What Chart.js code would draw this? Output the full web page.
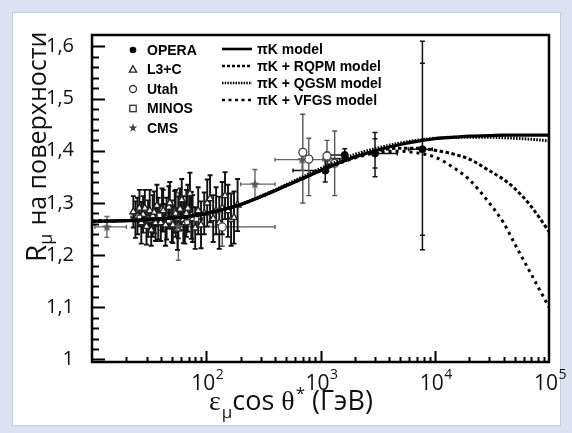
<!DOCTYPE html>
<html>
<head>
<meta charset="utf-8">
<script src="https://cdn.jsdelivr.net/npm/chart.js@4/dist/chart.umd.min.js"></script>
<style>
  html, body { margin: 0; padding: 0; background: #dfe4f1; }
  #c { display: block; }
</style>
</head>
<body>
<canvas id="c" width="572" height="433"></canvas>
<script>
// ---- axis settings ----
const X_MIN = 10, X_MAX = 1e5;
const Y_MIN = 0.995, Y_MAX = 1.622;
const yTicks = [1, 1.1, 1.2, 1.3, 1.4, 1.5, 1.6];
const xTickPowers = [2, 3, 4, 5];

// ---- model curves (energy in GeV) ----
const modelEnergy = [10, 20, 30, 50, 70, 100, 150, 200, 300, 500, 700, 1000, 1500, 2000, 3000,
                     5000, 7000, 10000, 15000, 20000, 30000, 40000, 50000, 70000, 100000];
const piK     = [1.265, 1.266, 1.268, 1.271, 1.274, 1.280, 1.289, 1.297, 1.312, 1.333, 1.347, 1.362, 1.378, 1.388, 1.400,
                 1.412, 1.418, 1.423, 1.426, 1.428, 1.429, 1.430, 1.430, 1.430, 1.430];
const piKRqpm = [1.265, 1.266, 1.268, 1.271, 1.274, 1.280, 1.289, 1.297, 1.312, 1.333, 1.347, 1.362, 1.378, 1.388, 1.399,
                 1.405, 1.405, 1.401, 1.393, 1.384, 1.362, 1.345, 1.328, 1.293, 1.245];
const piKQgsm = [1.265, 1.266, 1.268, 1.271, 1.274, 1.280, 1.289, 1.297, 1.313, 1.335, 1.350, 1.366, 1.382, 1.393, 1.404,
                 1.415, 1.420, 1.424, 1.426, 1.426, 1.426, 1.425, 1.424, 1.422, 1.419];
const piKVfgs = [1.265, 1.266, 1.268, 1.271, 1.274, 1.280, 1.289, 1.297, 1.312, 1.333, 1.347, 1.362, 1.377, 1.386, 1.396,
                 1.399, 1.396, 1.388, 1.366, 1.345, 1.300, 1.262, 1.222, 1.163, 1.100];

// ---- measurements ----
const operaE     = [1100, 1630, 3000, 7800];
const operaR     = [1.362, 1.392, 1.395, 1.403];
const operaErrLo = [0.022, 0.012, 0.045, 0.193];
const operaErrHi = [0.022, 0.012, 0.040, 0.207];
const operaStat  = [null, null, 0.028, 0.165];
const operaXLo   = [575, 1080, 2300, 5900];
const operaXHi   = [1150, 1700, 4700, 9500];

const l3cE   = [23, 24, 25, 26, 27, 28, 29, 30, 31, 32, 33, 34, 35, 36, 37, 38, 40, 41, 42, 44,
                45, 47, 48, 50, 51, 53, 54, 56, 57, 59, 61, 63, 65, 67, 69, 72, 74, 76, 80, 85,
                90, 96, 102, 108, 115, 122, 130, 138, 146, 155, 165, 175, 188];
const l3cR   = [1.283, 1.268, 1.275, 1.290, 1.262, 1.278, 1.290, 1.255, 1.270, 1.285,
                1.248, 1.275, 1.282, 1.262, 1.295, 1.270, 1.262, 1.288, 1.285, 1.258,
                1.270, 1.292, 1.300, 1.265, 1.258, 1.283, 1.280, 1.250, 1.272, 1.288,
                1.306, 1.268, 1.262, 1.280, 1.290, 1.318, 1.276, 1.270, 1.252, 1.285,
                1.258, 1.280, 1.300, 1.308, 1.270, 1.285, 1.262, 1.290, 1.314, 1.285,
                1.268, 1.272, 1.296];
const l3cErr = [0.030, 0.035, 0.035, 0.035, 0.040, 0.035, 0.035, 0.035, 0.035, 0.040,
                0.030, 0.040, 0.040, 0.035, 0.040, 0.040, 0.035, 0.040, 0.040, 0.040,
                0.040, 0.040, 0.040, 0.040, 0.035, 0.040, 0.045, 0.040, 0.040, 0.040,
                0.040, 0.045, 0.040, 0.045, 0.045, 0.040, 0.045, 0.045, 0.040, 0.045,
                0.045, 0.040, 0.045, 0.045, 0.045, 0.045, 0.050, 0.050, 0.045, 0.050,
                0.050, 0.050, 0.050];

const utahE     = [138, 700, 790, 1140, 1330];
const utahR     = [1.254, 1.397, 1.384, 1.390, 1.376];
const utahErrLo = [0.037, 0.097, 0.070, 0.030, 0.062];
const utahErrHi = [0.036, 0.073, 0.040, 0.030, 0.062];
const utahXLo   = [59, null, null, null, null];
const utahXHi   = [400, null, null, null, null];

const minosE   = [26, 32, 39, 47, 56, 68, 82, 1150];
const minosR   = [1.272, 1.268, 1.276, 1.266, 1.271, 1.263, 1.269, 1.385];
const minosErr = [0.015, 0.015, 0.015, 0.016, 0.017, 0.018, 0.020, 0.012];
const minosXLo = [22, 28, 35, 43, 51, 61, 75, 1080];
const minosXHi = [29, 35, 43, 51, 61, 75, 92, 1700];

const cmsE   = [13.5, 57, 267, 690];
const cmsR   = [1.254, 1.255, 1.336, 1.383];
const cmsErr = [0.020, 0.065, 0.028, 0.020];
const cmsXLo = [10.6, 50, 200, 400];
const cmsXHi = [20, 65, 400, 1050];

const seriesNames = ['OPERA', 'L3+C', 'Utah', 'MINOS', 'CMS'];
const modelNames  = ['\u03c0K model', '\u03c0K + RQPM model', '\u03c0K + QGSM model', '\u03c0K + VFGS model'];

// ---- helpers ----
function points(E, R, lo, hi, xLo, xHi, stat) {
  return E.map((e, i) => ({
    x: e, y: R[i],
    yLo: lo ? R[i] - lo[i] : null,
    yHi: hi ? R[i] + hi[i] : null,
    xLo: xLo && xLo[i] != null ? xLo[i] : null,
    xHi: xHi && xHi[i] != null ? xHi[i] : null,
    sLo: stat && stat[i] != null ? R[i] - stat[i] : null,
    sHi: stat && stat[i] != null ? R[i] + stat[i] : null
  }));
}

function starPath(g, cx, cy, ro, ri) {
  g.beginPath();
  for (let k = 0; k < 10; k++) {
    const r = k % 2 ? ri : ro;
    const a = -Math.PI / 2 + k * Math.PI / 5;
    const px = cx + r * Math.cos(a), py = cy + r * Math.sin(a);
    k ? g.lineTo(px, py) : g.moveTo(px, py);
  }
  g.closePath();
}

const starImg = (() => {
  const c = document.createElement('canvas');
  c.width = 11; c.height = 11;
  const g = c.getContext('2d');
  starPath(g, 5.5, 5.8, 5, 2.1);
  g.fillStyle = '#555';
  g.fill();
  return c;
})();

function model(ys, dash, width) {
  return {
    data: modelEnergy.map((e, i) => ({ x: e, y: ys[i] })),
    showLine: true, pointRadius: 0, borderColor: '#000', borderWidth: width,
    borderDash: dash, cubicInterpolationMode: 'monotone', fill: false
  };
}

// ---- plugins ----
const panelPlugin = {
  id: 'panel',
  beforeDraw(chart) {
    const g = chart.ctx;
    g.save();
    g.fillStyle = '#dce2f1';
    g.fillRect(0, 0, chart.width, chart.height);
    g.fillStyle = '#ffffff';
    g.fillRect(13, 13, 547, 412);
    g.strokeStyle = '#c5cde3';
    g.lineWidth = 1;
    g.strokeRect(12.5, 12.5, 548, 413);
    g.restore();
  }
};

const errorBarPlugin = {
  id: 'errorBars',
  beforeDatasetsDraw(chart) {
    const g = chart.ctx, xs = chart.scales.x, ys = chart.scales.y, a = chart.chartArea;
    g.save();
    g.beginPath();
    g.rect(a.left, a.top, a.right - a.left, a.bottom - a.top);
    g.clip();
    chart.data.datasets.forEach(ds => {
      if (!ds.errorColor) return;
      g.strokeStyle = ds.errorColor;
      g.lineWidth = ds.errorWidth || 1.6;
      ds.data.forEach(p => {
        const px = xs.getPixelForValue(p.x), py = ys.getPixelForValue(p.y);
        g.beginPath();
        if (p.yLo != null) {
          const t = ys.getPixelForValue(p.yHi), b = ys.getPixelForValue(p.yLo);
          g.moveTo(px, t); g.lineTo(px, b);
          g.moveTo(px - 2.5, t); g.lineTo(px + 2.5, t);
          g.moveTo(px - 2.5, b); g.lineTo(px + 2.5, b);
        }
        if (p.sLo != null) {
          const t = ys.getPixelForValue(p.sHi), b = ys.getPixelForValue(p.sLo);
          g.moveTo(px - 2.5, t); g.lineTo(px + 2.5, t);
          g.moveTo(px - 2.5, b); g.lineTo(px + 2.5, b);
        }
        if (p.xLo != null) {
          const l = xs.getPixelForValue(p.xLo), r = xs.getPixelForValue(p.xHi);
          g.moveTo(l, py); g.lineTo(r, py);
          g.moveTo(l, py - 2); g.lineTo(l, py + 2);
          g.moveTo(r, py - 2); g.lineTo(r, py + 2);
        }
        g.stroke();
      });
    });
    g.restore();
  }
};

const framePlugin = {
  id: 'frame',
  afterDraw(chart) {
    const g = chart.ctx, xs = chart.scales.x, ys = chart.scales.y, a = chart.chartArea;
    g.save();
    g.strokeStyle = '#000';
    // inward ticks on the left axis
    g.lineWidth = 2;
    g.beginPath();
    for (let k = 0; k <= 30; k++) {
      const v = 1 + k * 0.02;
      const py = Math.round(ys.getPixelForValue(v)) + 0.5;
      const len = k % 5 === 0 ? 13 : 7;
      g.moveTo(a.left, py); g.lineTo(a.left + len, py);
    }
    // inward ticks on the bottom axis
    for (let d = 1; d <= 4; d++) {
      for (let m = 1; m <= 9; m++) {
        const v = m * Math.pow(10, d);
        if (v <= X_MIN || v >= X_MAX) continue;
        const px = Math.round(xs.getPixelForValue(v)) + 0.5;
        const len = m === 1 ? 11 : 5;
        g.moveTo(px, a.bottom); g.lineTo(px, a.bottom - len);
      }
    }
    g.stroke();
    // frame
    g.lineWidth = 2.5;
    g.strokeRect(a.left, a.top, a.right - a.left, a.bottom - a.top);

    // x tick labels 10^n
    g.fillStyle = '#111';
    g.textBaseline = 'alphabetic';
    xTickPowers.forEach(p => {
      const px = xs.getPixelForValue(Math.pow(10, p));
      g.font = '21px "Open Sans"';
      const wb = g.measureText('10').width;
      g.font = '14px "Open Sans"';
      const we = g.measureText(String(p)).width;
      const x0 = px - (wb + we) / 2 + 1;
      g.font = '21px "Open Sans"';
      g.textAlign = 'left';
      g.fillText('10', x0, 390);
      g.font = '14px "Open Sans"';
      g.fillText(String(p), x0 + wb + 0.5, 379);
    });

    // x axis title
    let x = 209;
    const base = 410;
    g.textAlign = 'left';
    g.font = '28px "Liberation Serif"';
    g.fillText('\u03b5', x, base); x += g.measureText('\u03b5').width + 1;
    g.font = '17px "Open Sans"';
    g.fillText('\u03bc', x, base + 8); x += g.measureText('\u03bc').width;
    g.font = '27px "Open Sans"';
    g.fillText('cos ', x, base); x += g.measureText('cos ').width;
    g.font = '28px "Liberation Serif"';
    g.fillText('\u03b8', x, base); x += g.measureText('\u03b8').width + 1;
    g.font = '17px "Open Sans"';
    g.fillText('*', x, base - 11); x += g.measureText('*').width;
    g.font = '27px "Open Sans"';
    g.fillText(' (\u0413\u044d\u0412)', x, base);

    // y axis title (rotated)
    g.translate(46, 262);
    g.rotate(-Math.PI / 2);
    let t = 0;
    g.font = '28px "Open Sans"';
    g.fillText('R', t, 0); t += g.measureText('R').width;
    g.font = '18px "Open Sans"';
    g.fillText('\u03bc', t, 6); t += g.measureText('\u03bc').width + 8;
    g.font = '25px "Open Sans"';
    g.fillText('\u043d\u0430 \u043f\u043e\u0432\u0435\u0440\u0445\u043d\u043e\u0441\u0442\u0438', t, 0);
    g.restore();

    // legend: measurements
    g.save();
    g.font = 'bold 14px "Liberation Sans"';
    g.textBaseline = 'middle';
    g.textAlign = 'left';
    g.fillStyle = '#000';
    seriesNames.forEach((name, i) => {
      const cy = 50 + i * 19.5;
      drawMarker(g, i, 133, cy);
      g.fillStyle = '#000';
      g.fillText(name, 147, cy + 1);
    });
    // legend: models
    const dashes = [[], [3, 2], [1.5, 1.2], [3, 3.5]];
    modelNames.forEach((name, i) => {
      const cy = 49 + i * 17;
      g.strokeStyle = '#000';
      g.lineWidth = 2.6;
      g.setLineDash(dashes[i]);
      g.beginPath(); g.moveTo(222, cy); g.lineTo(252, cy); g.stroke();
      g.setLineDash([]);
      g.fillText(name, 257, cy + 1);
    });
    g.restore();
  }
};

function drawMarker(g, i, x, y) {
  g.save();
  g.lineWidth = 1.3;
  if (i === 0) {
    g.fillStyle = '#000';
    g.beginPath(); g.arc(x, y, 3.3, 0, Math.PI * 2); g.fill();
  } else if (i === 1) {
    g.strokeStyle = '#222';
    g.beginPath(); g.moveTo(x, y - 3.8); g.lineTo(x + 3.6, y + 2.6); g.lineTo(x - 3.6, y + 2.6); g.closePath(); g.stroke();
  } else if (i === 2) {
    g.strokeStyle = '#333';
    g.beginPath(); g.arc(x, y, 3.5, 0, Math.PI * 2); g.stroke();
  } else if (i === 3) {
    g.strokeStyle = '#333';
    g.strokeRect(x - 3.2, y - 3.2, 6.4, 6.4);
  } else {
    g.fillStyle = '#444';
    starPath(g, x, y, 4.5, 1.9); g.fill();
  }
  g.restore();
}

// ---- chart ----
new Chart(document.getElementById('c'), {
  type: 'scatter',
  data: {
    datasets: [
      model(piK, [], 3.2),
      model(piKRqpm, [3.5, 2.5], 3),
      model(piKQgsm, [1.6, 1.3], 3),
      model(piKVfgs, [3, 4], 3),
      { label: seriesNames[0], data: points(operaE, operaR, operaErrLo, operaErrHi, operaXLo, operaXHi, operaStat),
        pointStyle: 'circle', pointRadius: 3.5, backgroundColor: '#000', borderColor: '#000', errorColor: '#111', errorWidth: 1.5 },
      { label: seriesNames[2], data: points(utahE, utahR, utahErrLo, utahErrHi, utahXLo, utahXHi),
        pointStyle: 'circle', pointRadius: 4, backgroundColor: '#fff', borderColor: '#444', borderWidth: 1.3, errorColor: '#555', errorWidth: 1.4 },
      { label: seriesNames[4], data: points(cmsE, cmsR, cmsErr, cmsErr, cmsXLo, cmsXHi),
        pointStyle: starImg, pointRadius: 5, errorColor: '#666', errorWidth: 1.4 },
      { label: seriesNames[3], data: points(minosE, minosR, minosErr, minosErr, minosXLo, minosXHi),
        pointStyle: 'rect', pointRadius: 3.3, backgroundColor: '#fff', borderColor: '#333', borderWidth: 1.2, errorColor: '#333', errorWidth: 1.6 },
      { label: seriesNames[1], data: points(l3cE, l3cR, l3cErr, l3cErr),
        pointStyle: 'triangle', pointRadius: 4, backgroundColor: '#fff', borderColor: '#222', borderWidth: 1.4, errorColor: '#111', errorWidth: 1.9 }
    ]
  },
  options: {
    responsive: false,
    animation: false,
    devicePixelRatio: 1,
    layout: { padding: { left: 0, right: 23, top: 35, bottom: 71 } },
    plugins: { legend: { display: false }, tooltip: { enabled: false } },
    scales: {
      x: {
        type: 'logarithmic', min: X_MIN, max: X_MAX, display: false
      },
      y: {
        type: 'linear', min: Y_MIN, max: Y_MAX,
        grid: { display: false }, border: { display: false },
        afterFit(scale) { scale.width = 92; },
        afterBuildTicks(scale) { scale.ticks = yTicks.map(v => ({ value: v })); },
        ticks: {
          padding: 10, color: '#111',
          font: { family: '"Open Sans"', size: 20 },
          callback: v => String(v).replace('.', ',')
        }
      }
    }
  },
  plugins: [panelPlugin, errorBarPlugin, framePlugin]
});
</script>
</body>
</html>
